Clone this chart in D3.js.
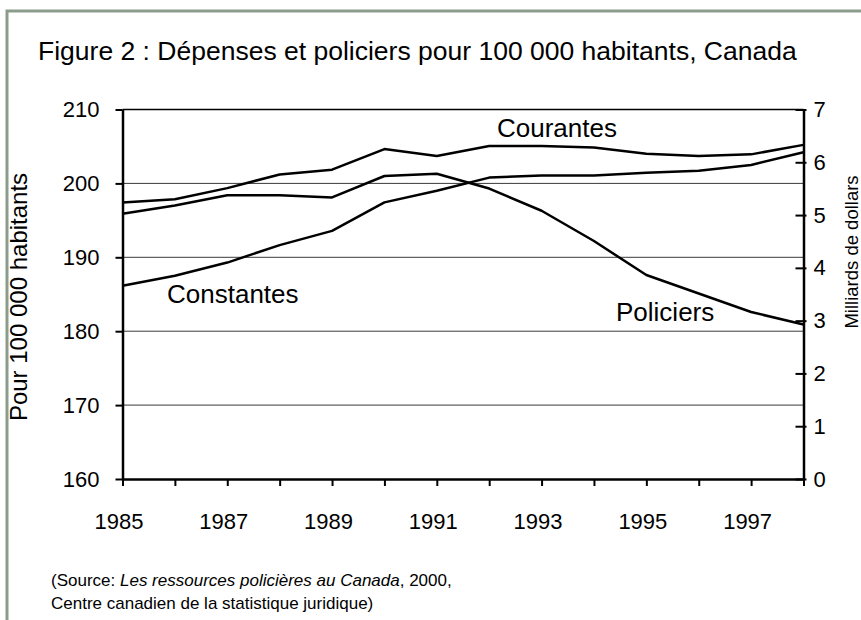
<!DOCTYPE html>
<html>
<head>
<meta charset="utf-8">
<script src="https://cdnjs.cloudflare.com/ajax/libs/d3/7.8.5/d3.min.js"></script>
<style>
  body { margin: 0; background: #fff; }
  svg { font-family: "Liberation Sans", Arial, sans-serif; }
</style>
</head>
<body>
<div id="container"></div>
<script>
/* DATA */
const years = [1985, 1986, 1987, 1988, 1989, 1990, 1991, 1992, 1993, 1994, 1995, 1996, 1997, 1998];
// policiers pour 100 000 habitants (axe gauche)
const policiers = [195.9, 197.0, 198.4, 198.4, 198.1, 201.0, 201.3, 199.3, 196.3, 192.2, 187.6, 185.1, 182.6, 180.9];
// dépenses en milliards de dollars (axe droit)
const courantes = [5.24, 5.30, 5.51, 5.77, 5.86, 6.25, 6.12, 6.31, 6.31, 6.28, 6.16, 6.12, 6.15, 6.33];
const constantes = [3.66, 3.85, 4.10, 4.43, 4.70, 5.24, 5.46, 5.71, 5.75, 5.75, 5.80, 5.84, 5.95, 6.19];
const leftTicks = [160, 170, 180, 190, 200, 210];
const rightTicks = [0, 1, 2, 3, 4, 5, 6, 7];
const yearLabels = [1985, 1987, 1989, 1991, 1993, 1995, 1997];

/* CONSTANTS */
const width = 861, height = 620;
const margin = { top: 109.5, right: 57.5, bottom: 141, left: 122.5 };

const svg = d3.select("#container").append("svg")
  .attr("width", width)
  .attr("height", height);

// cadre
svg.append("path")
  .attr("d", `M7,${height} V11 H${width}`)
  .attr("fill", "none")
  .attr("stroke", "#8c9c8c")
  .attr("stroke-width", 3);

/* SCALES */
const xScale = d3.scaleLinear()
  .domain([1985, 1998])
  .range([margin.left, width - margin.right]);

const yLeft = d3.scaleLinear()
  .domain([160, 210])
  .range([height - margin.bottom, margin.top]);

const yRight = d3.scaleLinear()
  .domain([0, 7])
  .range([height - margin.bottom, margin.top]);

// grille
svg.selectAll("line.grid")
  .data(leftTicks.filter(d => d > 160))
  .join("line")
  .attr("class", "grid")
  .attr("x1", margin.left)
  .attr("x2", width - margin.right)
  .attr("y1", d => yLeft(d))
  .attr("y2", d => yLeft(d))
  .attr("stroke", d => d == 210 ? "#000" : "#3a3a3a")
  .attr("stroke-width", d => d == 210 ? 1.5 : 1);

/* AXES */
const xAxis = d3.axisBottom(xScale)
  .tickValues(years)
  .tickSize(7)
  .tickSizeOuter(0)
  .tickFormat(d => yearLabels.includes(d) ? d : "");

const gx = svg.append("g")
  .attr("transform", `translate(0,${height - margin.bottom})`)
  .call(xAxis);

const gl = svg.append("g")
  .attr("transform", `translate(${margin.left},0)`)
  .call(d3.axisLeft(yLeft).tickValues(leftTicks).tickSize(7).tickSizeOuter(0).tickPadding(16));

const gr = svg.append("g")
  .attr("transform", `translate(${width - margin.right},0)`)
  .call(d3.axisRight(yRight).tickValues(rightTicks).tickFormat(d3.format("d"))
    .tickSize(3).tickSizeOuter(0).tickPadding(7));
gr.selectAll(".tick line").attr("x1", -8);

[gx, gl, gr].forEach(g => {
  g.select(".domain").attr("stroke", "#000").attr("stroke-width", 2.5);
  g.selectAll(".tick line").attr("stroke", "#000").attr("stroke-width", 2);
  g.selectAll("text").attr("fill", "#000").style("font-size", "22px")
    .style("font-family", "'Liberation Sans', Arial, sans-serif");
});
gx.selectAll("text").attr("y", 50).attr("dy", 0).attr("dx", -4);

/* LINES */
const lineLeft = d3.line().x((d, i) => xScale(years[i])).y(d => yLeft(d));
const lineRight = d3.line().x((d, i) => xScale(years[i])).y(d => yRight(d));

[[courantes, lineRight], [constantes, lineRight], [policiers, lineLeft]].forEach(([s, gen]) => {
  svg.append("path")
    .datum(s)
    .attr("d", gen)
    .attr("fill", "none")
    .attr("stroke", "#000")
    .attr("stroke-width", 2.5)
    .attr("stroke-linejoin", "round");
});

/* LABELS */
svg.append("text")
  .attr("x", 38).attr("y", 60)
  .style("font-size", "26.5px")
  .text("Figure 2 : Dépenses et policiers pour 100 000 habitants, Canada");

const labels = [
  { t: "Courantes", x: 497, y: 137 },
  { t: "Constantes", x: 167, y: 303 },
  { t: "Policiers", x: 616, y: 321 }
];
svg.selectAll("text.serie")
  .data(labels)
  .join("text")
  .attr("class", "serie")
  .attr("x", d => d.x).attr("y", d => d.y)
  .style("font-size", "26px")
  .text(d => d.t);

svg.append("text")
  .attr("transform", `translate(27,297) rotate(-90)`)
  .attr("text-anchor", "middle")
  .style("font-size", "24px")
  .text("Pour 100 000 habitants");

svg.append("text")
  .attr("transform", `translate(858,252) rotate(-90)`)
  .attr("text-anchor", "middle")
  .style("font-size", "18.5px")
  .text("Milliards de dollars");

const src = svg.append("text")
  .attr("x", 51).attr("y", 586)
  .style("font-size", "17px");
src.append("tspan").text("(Source: ");
src.append("tspan").style("font-style", "italic").text("Les ressources policières au Canada");
src.append("tspan").text(", 2000,");

svg.append("text")
  .attr("x", 51).attr("y", 609)
  .style("font-size", "17px")
  .text("Centre canadien de la statistique juridique)");
</script>
</body>
</html>
